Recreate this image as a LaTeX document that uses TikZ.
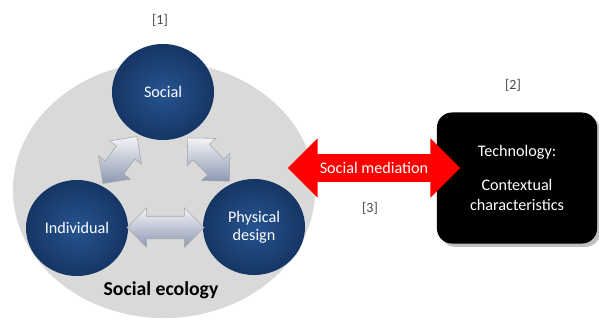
\documentclass[tikz,border=0pt]{standalone}
\usepackage{fontspec}
\setmainfont{Carlito}
\usetikzlibrary{shapes.arrows,shapes.geometric,calc,shadows}
\definecolor{ballblue}{RGB}{38,84,145}
\definecolor{ballrim}{RGB}{22,54,100}
\definecolor{ecogray}{RGB}{217,217,217}
\definecolor{linkgray}{RGB}{140,152,178}
\definecolor{refgray}{RGB}{70,70,70}

\begin{document}
\begin{tikzpicture}[x=0.025cm,y=-0.025cm,
	ball/.style={ellipse,minimum width=2.55cm,minimum height=2.4cm,inner sep=0pt,
		inner color=ballblue,outer color=ballrim,text=white,align=center,
		font=\fontsize{11.5}{13}\selectfont},
	link/.style={double arrow,double arrow head extend=0.21cm,inner xsep=0pt,inner ysep=0.275cm,
		draw=gray!70,top color=white!90!linkgray,bottom color=linkgray},
	ref/.style={text=refgray,font=\fontsize{10}{12}\selectfont}]
	\useasboundingbox (0,0) rectangle (599,325);
	
	% social ecology
	\node[ellipse,fill=ecogray,minimum width=7.55cm,minimum height=6.4cm] (eco) at (164,190) {};
	\node[font=\bfseries\fontsize{14}{16}\selectfont] (ecolabel) at (161,290) {Social ecology};
	
	\node[ball] (social) at (163,92) {Social};
	\node[ball] (indiv) at (77,228) {Individual};
	\node[ball] (phys) at (254,227) {Physical\\design};
	
	\node[link,minimum height=1.45cm,rotate=54] (l1) at ($(social)!0.5!(indiv)$) {};
	\node[link,minimum height=1.5cm,rotate=-46] (l2) at ($(social)!0.5!(phys)$) {};
	\node[link,minimum height=1.925cm] (l3) at ($(indiv)!0.5!(phys)$) {};
	
	% technology
	\node[fill=black,rounded corners=0.375cm,minimum width=4cm,minimum height=3.275cm,
		text=white,align=center,drop shadow,font=\fontsize{11.5}{14}\selectfont] (tech) at (517,178)
		{Technology:\\[10pt]Contextual\\characteristics};
	
	\node[double arrow,fill=red,minimum height=4.3cm,double arrow head extend=0.39cm,
		inner xsep=0pt,inner ysep=0.2cm,text=white,
		font=\fontsize{11.5}{13}\selectfont] (media) at (374,168) {Social mediation};
	
	\node[ref] (r1) at (160,20) {[1]};
	\node[ref] (r2) at (513,85) {[2]};
	\node[ref] (r3) at (370,208) {[3]};
\end{tikzpicture}
\end{document}
